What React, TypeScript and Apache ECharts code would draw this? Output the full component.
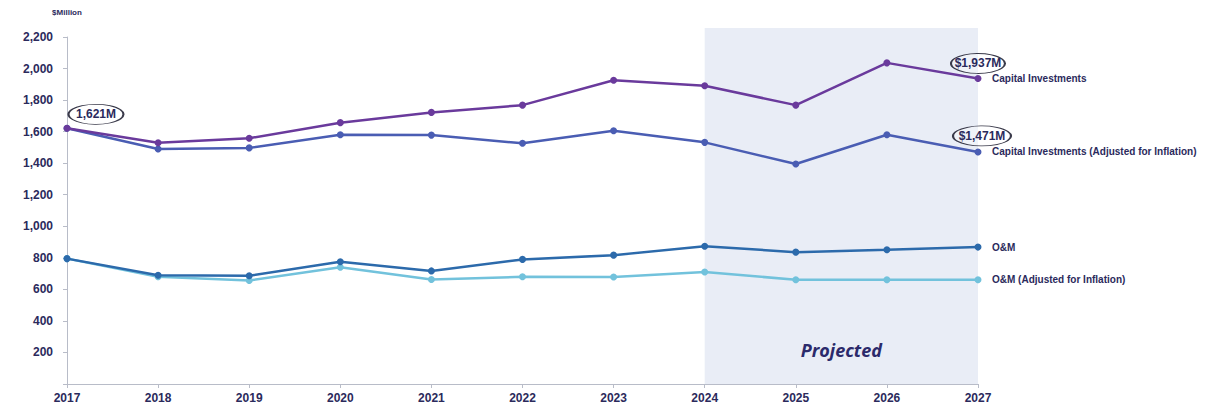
import React, { useEffect, useRef } from "react";
import * as echarts from "echarts";

const years = ["2017", "2018", "2019", "2020", "2021", "2022", "2023", "2024", "2025", "2026", "2027"];
const capital = [1621, 1530, 1558, 1657, 1722, 1768, 1926, 1891, 1768, 2036, 1937];
const capitalAdj = [1621, 1490, 1497, 1580, 1578, 1526, 1606, 1532, 1395, 1580, 1471];
const om = [795, 690, 686, 775, 717, 790, 817, 873, 836, 851, 868];
const omAdj = [795, 680, 656, 740, 662, 680, 678, 710, 661, 661, 661];
const seriesNames = [
  "Capital Investments",
  "Capital Investments (Adjusted for Inflation)",
  "O&M",
  "O&M (Adjusted for Inflation)",
];
const colors = ["#6a3a9c", "#4a5db3", "#2c6aab", "#72c2dc"];
const projectedStart = "2024";
const projectedEnd = "2027";

const TEXT = "#2b2a5c";
const FONT = "Liberation Sans, Arial, sans-serif";

export default function App() {
  const ref = useRef<HTMLDivElement>(null);
  useEffect(() => {
    document.body.style.margin = "0";
    const chart = echarts.init(ref.current!, null, { renderer: "svg" });
    const callout = (idx: number, val: number, text: string, w: number, off: [number, number]) => ({
      symbol: "circle",
      symbolSize: [w, 20],
      symbolOffset: off,
      itemStyle: { color: "rgba(255,255,255,0.35)", borderColor: "#3a3a4a", borderWidth: 1.3 },
      label: {
        show: true,
        position: "inside",
        formatter: text,
        color: TEXT,
        fontWeight: "bold",
        fontSize: 12,
        fontFamily: FONT,
      },
      coord: [years[idx], val],
    });
    const data = [capital, capitalAdj, om, omAdj];
    const series: any[] = data.map((d, i) => ({
      type: "line",
      name: seriesNames[i],
      data: d,
      color: colors[i],
      symbol: "circle",
      symbolSize: 7,
      lineStyle: { width: 2.5 },
      z: 10 - i,
      endLabel: {
        show: true,
        formatter: seriesNames[i],
        color: TEXT,
        fontWeight: "bold",
        fontSize: 10,
        fontFamily: FONT,
        distance: 14,
      },
    }));
    series[0].markPoint = {
      silent: true,
      data: [
        callout(0, capital[0], "1,621M", 55, [29, -14]),
        callout(10, capital[10], "$1,937M", 54, [0, -15]),
      ],
    };
    series[1].markPoint = {
      silent: true,
      data: [callout(10, capitalAdj[10], "$1,471M", 58, [4, -16])],
    };
    chart.setOption({
      animation: false,
      grid: { left: 67, right: 238, top: 37, bottom: 22, containLabel: false },
      xAxis: {
        type: "category",
        data: years,
        boundaryGap: false,
        axisLine: { lineStyle: { color: "#b8bcc8", width: 1 } },
        axisTick: { show: true, length: 4, lineStyle: { color: "#b8bcc8" } },
        axisLabel: { color: TEXT, fontWeight: "bold", fontSize: 12, fontFamily: FONT, margin: 8 },
      },
      yAxis: {
        type: "value",
        min: 0,
        max: 2200,
        interval: 200,
        name: "$Million",
        nameLocation: "end",
        nameGap: 21,
        nameTextStyle: { color: TEXT, fontWeight: "bold", fontSize: 8, fontFamily: FONT, align: "center" },
        axisLine: { show: true, lineStyle: { color: "#b8bcc8", width: 1 } },
        axisTick: { show: true, length: 4, lineStyle: { color: "#b8bcc8" } },
        splitLine: { show: false },
        axisLabel: {
          color: TEXT,
          fontWeight: "bold",
          fontSize: 12,
          fontFamily: FONT,
          margin: 14,
          formatter: (v: number) => (v === 0 ? "" : v.toLocaleString("en-US")),
        },
      },
      series,
    });
    const x0 = chart.convertToPixel({ xAxisIndex: 0 }, projectedStart) as number;
    const x1 = chart.convertToPixel({ xAxisIndex: 0 }, projectedEnd) as number;
    const yb = chart.convertToPixel({ yAxisIndex: 0 }, 0) as number;
    const yt = (chart.convertToPixel({ yAxisIndex: 0 }, 2200) as number) - 9;
    chart.setOption({
      graphic: [
        {
          type: "rect",
          z: -1,
          silent: true,
          shape: { x: x0, y: yt, width: x1 - x0, height: yb - yt },
          style: { fill: "#e9edf6" },
        },
        {
          type: "text",
          z: 1,
          silent: true,
          x: (x0 + x1) / 2,
          y: yb - 34,
          style: {
            text: "Projected",
            fill: "#2b2a6b",
            font: "italic bold 18px 'Open Sans', 'DejaVu Sans', sans-serif",
            align: "center",
            verticalAlign: "middle",
          },
        },
      ],
    });
    return () => chart.dispose();
  }, []);
  return <div ref={ref} style={{ width: 1216, height: 406 }} />;
}
